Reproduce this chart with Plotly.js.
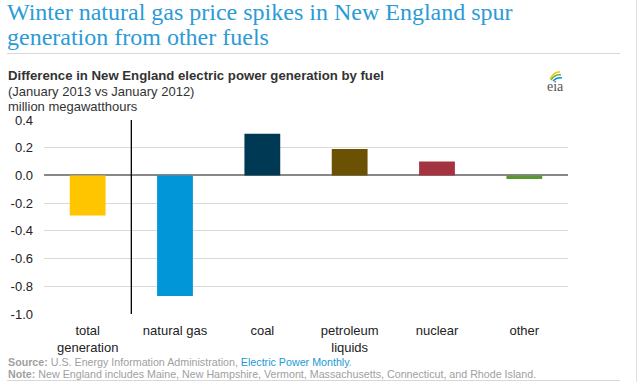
<!DOCTYPE html>
<html>
<head>
<meta charset="utf-8">
<script src="https://cdn.plot.ly/plotly-3.0.1.min.js"></script>
<style>
html,body{margin:0;padding:0;background:#fff;}
#chart{width:640px;height:382px;}
</style>
</head>
<body>
<div id="chart"></div>
<script>
// ---- data ----
const categories = ["total<br>generation", "natural gas", "coal", "petroleum<br>liquids", "nuclear", "other"];
const values = [-0.29, -0.87, 0.30, 0.19, 0.10, -0.025];
const barColors = ["#ffc600", "#0096d7", "#003953", "#6a5104", "#a33340", "#5d9732"];
const yTickVals = [-1.0, -0.8, -0.6, -0.4, -0.2, 0.0, 0.2, 0.4];
const yTickText = ["-1.0", "-0.8", "-0.6", "-0.4", "-0.2", "0.0", "0.2", "0.4"];
const boundaryTicks = [-0.5, 1.5, 2.5, 3.5, 4.5, 5.5];

// ---- layout helpers (pixel -> paper) ----
const W = 640, H = 382;
const M = {l: 44, r: 72, t: 120, b: 68};
const PW = W - M.l - M.r, PH = H - M.t - M.b;
const px = x => (x - M.l) / PW;
const py = y => (H - M.b - y) / PH;

const font = "Liberation Sans, Arial, sans-serif";

const trace = {
  type: "bar",
  x: categories,
  y: values,
  marker: {color: barColors, line: {width: 0}},
  hoverinfo: "x+y",
  cliponaxis: false
};

const layout = {
  width: W, height: H,
  margin: M,
  paper_bgcolor: "#fff",
  plot_bgcolor: "#fff",
  showlegend: false,
  bargap: 0.59,
  font: {family: font, color: "#222", size: 12},
  xaxis: {
    type: "category",
    range: [-0.5, 5.5],
    showgrid: false,
    showline: false,
    zeroline: false,
    ticks: "",
    ticklabelstandoff: 7,
    tickfont: {family: font, size: 13, color: "#222"},
    fixedrange: true
  },
  xaxis2: {
    overlaying: "x",
    anchor: "free",
    position: py(176),
    range: [-0.5, 5.5],
    showgrid: false,
    showline: false,
    zeroline: false,
    showticklabels: false,
    tickmode: "array",
    tickvals: boundaryTicks,
    ticks: "outside",
    ticklen: 5,
    tickwidth: 1.5,
    tickcolor: "#888"
  },
  yaxis: {
    range: [-1.0, 0.4],
    tickmode: "array",
    tickvals: yTickVals,
    ticktext: yTickText,
    showgrid: true,
    gridcolor: "#d9d9d9",
    gridwidth: 1,
    zeroline: true,
    zerolinecolor: "#888",
    zerolinewidth: 2,
    showline: false,
    ticks: "",
    ticklabelstandoff: 10,
    tickfont: {family: font, size: 13, color: "#222"},
    fixedrange: true
  },
  shapes: [
    // separator line between total and fuels
    {type: "line", xref: "paper", yref: "paper", x0: 1/6, x1: 1/6, y0: 0, y1: 1,
     line: {color: "#000", width: 1.3}},
    // rule under title
    {type: "line", xref: "paper", yref: "paper", x0: px(7), x1: px(620), y0: py(53.5), y1: py(53.5),
     line: {color: "#d8d8d8", width: 1}},
    // bottom rule
    {type: "line", xref: "paper", yref: "paper", x0: px(7), x1: px(620), y0: py(380.5), y1: py(380.5),
     line: {color: "#d8d8d8", width: 1}},
    // right border
    {type: "line", xref: "paper", yref: "paper", x0: px(636.5), x1: px(636.5), y0: py(0), y1: py(382),
     line: {color: "#e0e0e0", width: 1}},
    // eia logo arcs
    {type: "path", xref: "paper", yref: "paper",
     path: `M ${px(550)} ${py(79)} Q ${px(554)} ${py(71)} ${px(560)} ${py(72)}`,
     line: {color: "#f5c400", width: 1.5}},
    {type: "path", xref: "paper", yref: "paper",
     path: `M ${px(551)} ${py(80)} Q ${px(555)} ${py(74)} ${px(561)} ${py(75)}`,
     line: {color: "#6cb33f", width: 1.5}},
    {type: "path", xref: "paper", yref: "paper",
     path: `M ${px(553)} ${py(81)} Q ${px(557)} ${py(77)} ${px(562)} ${py(78)}`,
     line: {color: "#0096d7", width: 1.5}}
  ],
  annotations: [
    {xref: "paper", yref: "paper", x: px(5), y: py(-3), xanchor: "left", yanchor: "top",
     text: "Winter natural gas price spikes in New England spur", showarrow: false,
     font: {family: "Liberation Serif, Times New Roman, serif", size: 24, color: "#2b9bd6"}},
    {xref: "paper", yref: "paper", x: px(5), y: py(22), xanchor: "left", yanchor: "top",
     text: "generation from other fuels", showarrow: false,
     font: {family: "Liberation Serif, Times New Roman, serif", size: 24, color: "#2b9bd6"}},
    {xref: "paper", yref: "paper", x: px(6), y: py(76), xanchor: "left", yanchor: "middle",
     text: "<b>Difference in New England electric power generation by fuel</b>", showarrow: false,
     font: {family: font, size: 13.2, color: "#333"}},
    {xref: "paper", yref: "paper", x: px(6), y: py(91), xanchor: "left", yanchor: "middle",
     text: "(January 2013 vs January 2012)", showarrow: false,
     font: {family: font, size: 13, color: "#333"}},
    {xref: "paper", yref: "paper", x: px(6), y: py(106), xanchor: "left", yanchor: "middle",
     text: "million megawatthours", showarrow: false,
     font: {family: font, size: 13, color: "#333"}},
    {xref: "paper", yref: "paper", x: px(555), y: py(86), xanchor: "center", yanchor: "middle",
     text: "eia", showarrow: false,
     font: {family: "Liberation Serif, Times New Roman, serif", size: 14, color: "#555"}},
    {xref: "paper", yref: "paper", x: px(6), y: py(362), xanchor: "left", yanchor: "middle",
     text: "<b>Source:</b> U.S. Energy Information Administration, <span style='color:#1a9ad6'>Electric Power Monthly</span>.",
     showarrow: false, font: {family: font, size: 10.7, color: "#a0a0a0"}},
    {xref: "paper", yref: "paper", x: px(6), y: py(374), xanchor: "left", yanchor: "middle",
     text: "<b>Note:</b> New England includes Maine, New Hampshire, Vermont, Massachusetts, Connecticut, and Rhode Island.",
     showarrow: false, font: {family: font, size: 10.7, color: "#a0a0a0"}}
  ]
};

Plotly.newPlot("chart", [trace], layout, {displayModeBar: false, staticPlot: true});
</script>
</body>
</html>
